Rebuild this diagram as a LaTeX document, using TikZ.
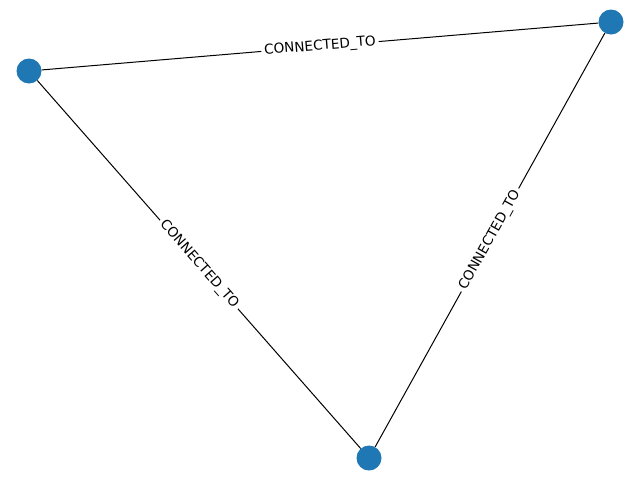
\documentclass[tikz,border=0pt]{standalone}
\usepackage{fontspec}
\setmainfont{DejaVu Sans}
\definecolor{nxblue}{HTML}{1F77B4}
\begin{document}
\begin{tikzpicture}[x=1pt,y=-1pt,
  vertex/.style={circle,fill=nxblue,minimum size=25pt,inner sep=0pt},
  edgelabel/.style={fill=white,inner sep=3pt,font=\fontsize{13.6}{15}\selectfont,sloped,midway},
  link/.style={draw=black,line width=1pt}]
\useasboundingbox (0,0) rectangle (640,480);
\node[vertex] (a) at (29,71) {};
\node[vertex] (b) at (611,22) {};
\node[vertex] (c) at (369,458) {};
\path[link] (a) -- node[edgelabel] {CONNECTED\_TO} (b);
\path[link] (a) -- node[edgelabel] {CONNECTED\_TO} (c);
\path[link] (c) -- node[edgelabel] {CONNECTED\_TO} (b);
\end{tikzpicture}
\end{document}
